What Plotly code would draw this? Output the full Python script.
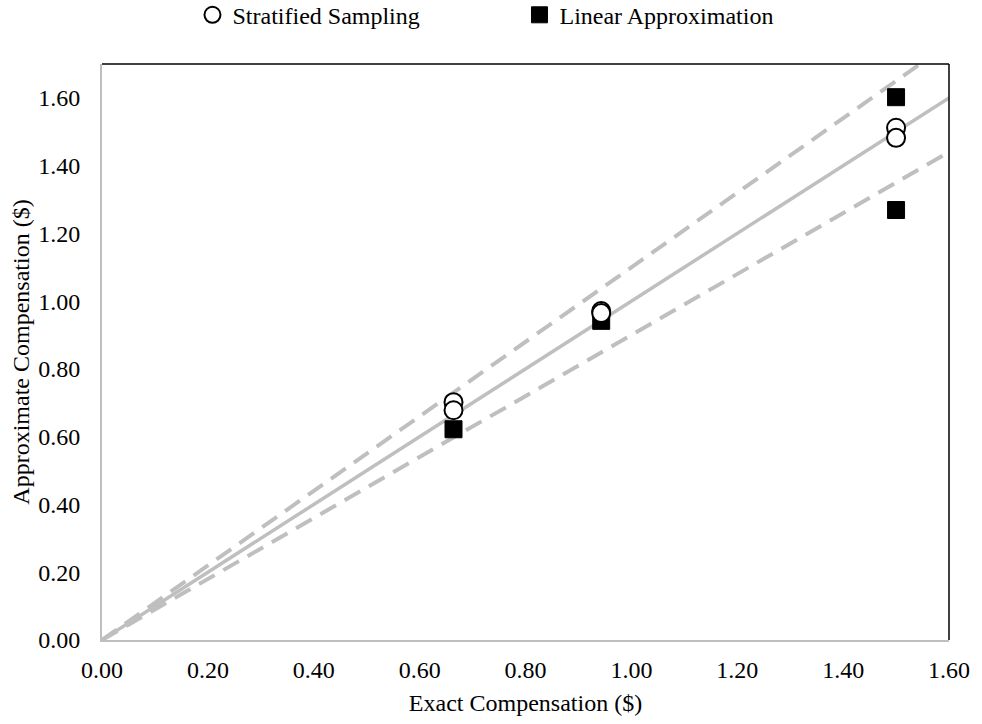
import plotly.graph_objects as go

# Data
strat_x = [0.664, 0.664, 0.943, 0.943, 1.50, 1.50]
strat_y = [0.702, 0.678, 0.971, 0.965, 1.512, 1.482]
lin_x = [0.664, 0.943, 1.50, 1.50]
lin_y = [0.622, 0.942, 1.602, 1.269]

ref_x = [0.0, 1.6]
ref_factor_mid = 1.0
ref_factor_hi = 1.1
ref_factor_lo = 0.9

x_ticks = [0.0, 0.2, 0.4, 0.6, 0.8, 1.0, 1.2, 1.4, 1.6]
y_ticks = [0.0, 0.2, 0.4, 0.6, 0.8, 1.0, 1.2, 1.4, 1.6]

FONT = "Liberation Serif, Times New Roman, serif"
GRAY = "#BFBFBF"
FS = 24

fig = go.Figure()

fig.add_trace(go.Scatter(x=ref_x, y=[v * ref_factor_hi for v in ref_x], mode="lines",
                         line=dict(color=GRAY, width=4, dash="18px,10px"), showlegend=False,
                         hoverinfo="skip"))
fig.add_trace(go.Scatter(x=ref_x, y=[v * ref_factor_lo for v in ref_x], mode="lines",
                         line=dict(color=GRAY, width=4, dash="18px,10px"), showlegend=False,
                         hoverinfo="skip"))
fig.add_trace(go.Scatter(x=ref_x, y=[v * ref_factor_mid for v in ref_x], mode="lines",
                         line=dict(color=GRAY, width=3.5), showlegend=False, hoverinfo="skip"))

fig.add_trace(go.Scatter(x=lin_x, y=lin_y, mode="markers", name="Linear Approximation",
                         marker=dict(symbol="square", size=17, color="black",
                                     line=dict(color="black", width=1))))
fig.add_trace(go.Scatter(x=strat_x, y=strat_y, mode="markers", name="Stratified Sampling",
                         marker=dict(symbol="circle", size=18, color="white",
                                     line=dict(color="black", width=2))))

fig.update_layout(
    width=982, height=724,
    margin=dict(l=102, r=25, t=64, b=79),
    plot_bgcolor="white", paper_bgcolor="white",
    font=dict(family=FONT, size=FS, color="black"),
    showlegend=True,
    legend=dict(orientation="h", xref="container", yref="container",
                x=0.196, y=0.979, xanchor="left", yanchor="middle",
                font=dict(family=FONT, size=FS, color="black"),
                traceorder="reversed", itemwidth=30,
                entrywidth=282, entrywidthmode="pixels",
                bgcolor="rgba(0,0,0,0)"),
    xaxis=dict(range=[0, 1.6], tickvals=x_ticks, ticktext=[f"{v:.2f}" for v in x_ticks],
               showgrid=False, zeroline=False, showline=True, linecolor=GRAY, linewidth=2,
               ticks="outside", ticklen=7, tickcolor="rgba(0,0,0,0)",
               title=dict(text="Exact Compensation ($)", standoff=12,
                          font=dict(family=FONT, size=FS))),
    yaxis=dict(range=[0, 1.7], tickvals=y_ticks, ticktext=[f"{v:.2f}" for v in y_ticks],
               showgrid=False, zeroline=False, showline=True, linecolor=GRAY, linewidth=2,
               ticks="outside", ticklen=15, tickcolor="rgba(0,0,0,0)",
               title=dict(text="Approximate Compensation ($)", standoff=2,
                          font=dict(family=FONT, size=FS))),
    shapes=[
        dict(type="line", xref="paper", yref="paper", x0=0, x1=1, y0=1, y1=1,
             line=dict(color="black", width=1.5)),
        dict(type="line", xref="paper", yref="paper", x0=1, x1=1, y0=0, y1=1,
             line=dict(color="black", width=1.5)),
    ],
)

fig.write_html("out.html", config={"displayModeBar": False},
               post_script="document.body.style.margin='0';")
